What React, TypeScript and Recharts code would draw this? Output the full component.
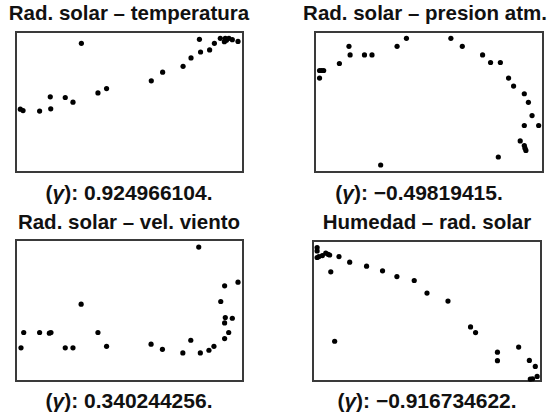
import { ScatterChart, Scatter, XAxis, YAxis, ReferenceArea } from 'recharts'

// Four correlation scatter panels, values scaled 0-100 on each axis
const radTempX = [1.9, 3.1, 10.4, 15.1, 15.3, 21.7, 25.1, 28.8, 36.1, 39.9, 59.6, 64.6, 73.6, 77.1, 80.8, 81.3, 85.3, 87.4, 90.0, 91.8, 92.2, 92.7, 93.8, 95.3, 97.8]
const radTempY = [44.9, 43.9, 43.5, 53.7, 45.1, 53.2, 49.9, 91.9, 56.5, 59.6, 65.1, 71.3, 75.5, 81.5, 94.8, 85.7, 87.2, 91.9, 95.5, 93.1, 95.5, 94.1, 95.5, 94.5, 93.3]

const radPresX = [2.0, 2.0, 2.9, 3.8, 10.7, 14.9, 15.4, 21.7, 25.0, 28.8, 36.0, 40.1, 59.6, 64.6, 73.5, 77.0, 81.3, 80.4, 84.9, 87.1, 91.8, 93.6, 95.2, 91.8, 98.1, 90.0, 91.8, 92.1, 92.5]
const radPresY = [67.1, 72.5, 72.5, 72.5, 77.5, 89.8, 83.6, 83.6, 83.6, 5.0, 89.8, 95.5, 95.5, 89.8, 83.6, 78.2, 78.2, 10.7, 67.1, 61.4, 55.9, 49.8, 40.3, 33.2, 33.2, 22.2, 18.9, 17.0, 15.4]

const radVientoX = [2.2, 3.4, 10.4, 14.7, 15.4, 21.7, 25.1, 28.7, 36.1, 39.9, 59.5, 64.5, 73.5, 77.0, 80.5, 81.2, 85.0, 87.2, 90.2, 91.9, 91.9, 92.2, 91.9, 93.7, 95.3, 97.8]
const radVientoY = [23.5, 34.4, 34.4, 33.9, 34.4, 23.5, 23.5, 54.5, 34.4, 24.6, 26.1, 22.5, 19.9, 28.9, 95.0, 19.9, 21.8, 24.6, 56.4, 67.5, 41.2, 45.0, 30.1, 34.4, 44.5, 70.1]

const humRadX = [1.8, 1.8, 1.8, 2.6, 4.1, 5.6, 6.6, 7.3, 7.8, 9.5, 11.4, 16.1, 23.5, 30.5, 36.8, 44.4, 50.0, 59.2, 69.1, 71.3, 80.9, 80.9, 90.2, 94.9, 97.5, 95.3, 96.3, 98.3]
const humRadY = [95.3, 92.9, 88.2, 88.9, 89.6, 91.3, 90.5, 90.0, 78.0, 28.4, 88.9, 84.9, 82.0, 78.7, 74.6, 71.8, 62.8, 57.1, 38.6, 34.6, 20.6, 14.5, 24.2, 14.7, 10.4, 1.4, 1.6, 3.3]

const titles = ['Rad. solar – temperatura', 'Rad. solar – presion atm.', 'Rad. solar – vel. viento', 'Humedad – rad. solar']
const coefs = ['0.924966104.', '−0.49819415.', '0.340244256.', '−0.916734622.']

const toPoints = (xs: number[], ys: number[]) => xs.map((x, i) => ({ x, y: ys[i] }))

const panels = [
  { data: toPoints(radTempX, radTempY), box: { left: 16, top: 32, w: 227, h: 140 }, titleX: 129, titleY: 3, coefX: 129, coefY: 181.5 },
  { data: toPoints(radPresX, radPresY), box: { left: 315, top: 32, w: 228, h: 140 }, titleX: 425, titleY: 3, coefX: 419, coefY: 181.5 },
  { data: toPoints(radVientoX, radVientoY), box: { left: 16, top: 240, w: 227, h: 141 }, titleX: 129, titleY: 211.5, coefX: 129, coefY: 390 },
  { data: toPoints(humRadX, humRadY), box: { left: 313, top: 241, w: 228, h: 140 }, titleX: 427, titleY: 211.5, coefX: 427, coefY: 390 },
]

const Dot = (props: any) => <circle cx={props.cx} cy={props.cy} r={2.6} fill="#000" />

const textStyle = {
  position: 'absolute' as const,
  width: 300,
  textAlign: 'center' as const,
  fontFamily: '"Liberation Sans", Arial, sans-serif',
  fontWeight: 700,
  lineHeight: '1',
  color: '#111',
  whiteSpace: 'nowrap' as const,
}

function Panel({ idx }: { idx: number }) {
  const p = panels[idx]
  const pad = 2
  return (
    <>
      <div style={{ ...textStyle, left: p.titleX - 150, top: p.titleY, fontSize: 20.5 }}>{titles[idx]}</div>
      <div style={{ position: 'absolute', left: p.box.left - pad, top: p.box.top - pad }}>
        <ScatterChart
          width={p.box.w + pad * 2}
          height={p.box.h + pad * 2}
          margin={{ top: pad, right: pad, bottom: pad, left: pad }}
        >
          <XAxis type="number" dataKey="x" domain={[0, 100]} hide />
          <YAxis type="number" dataKey="y" domain={[0, 100]} hide />
          <ReferenceArea x1={0} x2={100} y1={0} y2={100} fill="none" stroke="#3a3a3a" strokeWidth={2} />
          <Scatter data={p.data} shape={Dot} isAnimationActive={false} />
        </ScatterChart>
      </div>
      <div style={{ ...textStyle, left: p.coefX - 150, top: p.coefY, fontSize: 21 }}>
        (<span style={{ fontStyle: 'italic' }}>γ</span>): {coefs[idx]}
      </div>
    </>
  )
}

export default function App() {
  return (
    <div style={{ position: 'relative', width: 551, height: 420, background: '#fff', overflow: 'hidden' }}>
      <style>{'body{margin:0}'}</style>
      {panels.map((_, i) => (
        <Panel key={i} idx={i} />
      ))}
    </div>
  )
}
